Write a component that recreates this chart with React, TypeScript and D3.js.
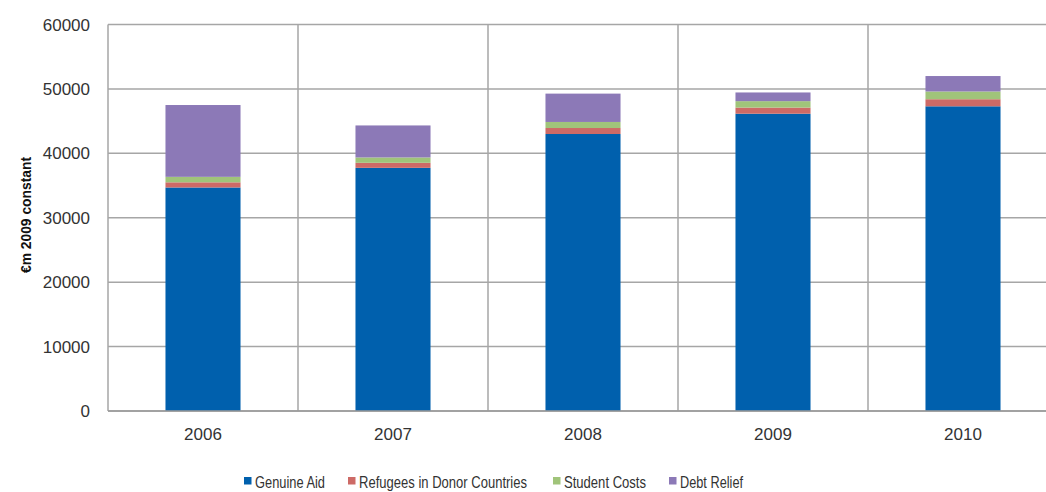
import * as d3 from "d3";

// chart data (€m, 2009 constant prices)
const years = ["2006", "2007", "2008", "2009", "2010"];
const seriesNames = ["Genuine Aid", "Refugees in Donor Countries", "Student Costs", "Debt Relief"];
const genuineAid = [34700, 37750, 43000, 46150, 47300];
const refugees = [800, 780, 930, 950, 1100];
const studentCosts = [850, 830, 940, 1000, 1200];
const debtRelief = [11150, 4970, 4400, 1350, 2400];
const yTicks = [0, 10000, 20000, 30000, 40000, 50000, 60000];

const colors = ["#0060AD", "#CD6A66", "#A0C47A", "#8C79B7"];
const legendX = [244, 348, 553, 669];
const legendW = [70, 168, 82, 63];

const W = 1046;
const H = 492;
const left = 108;
const right = 1058;
const top = 24.5;
const bottom = 411;
const font = "'Liberation Sans', Arial, sans-serif";

export default function App() {
  const rows = years.map((y, i) => ({
    year: y,
    "Genuine Aid": genuineAid[i],
    "Refugees in Donor Countries": refugees[i],
    "Student Costs": studentCosts[i],
    "Debt Relief": debtRelief[i],
  }));
  const stacked = d3.stack<any>().keys(seriesNames)(rows);

  const x = d3
    .scaleBand()
    .domain(years)
    .range([left, right])
    .paddingInner(0.605)
    .paddingOuter(0.3025);
  const y = d3.scaleLinear().domain([0, 60000]).range([bottom, top]);
  const step = x.step();

  return (
    <svg width={W} height={H} style={{ position: "absolute", left: 0, top: 0, background: "#fff" }}>
      {/* grid */}
      {yTicks.map((t) => (
        <line key={t} x1={left} x2={W} y1={y(t)} y2={y(t)} stroke="#A6A6A6" strokeWidth={1.5} />
      ))}
      {d3.range(years.length + 1).map((i) => (
        <line
          key={i}
          x1={left + i * step}
          x2={left + i * step}
          y1={top}
          y2={bottom}
          stroke="#A6A6A6"
          strokeWidth={1.5}
        />
      ))}
      {/* bars */}
      {stacked.map((s, si) => (
        <g key={s.key} fill={colors[si]}>
          {s.map((d, i) => (
            <rect
              key={i}
              x={x(years[i])}
              width={x.bandwidth()}
              y={y(d[1])}
              height={y(d[0]) - y(d[1])}
            />
          ))}
        </g>
      ))}
      <line x1={left} x2={W} y1={bottom} y2={bottom} stroke="#9A9A9A" strokeWidth={1.5} />
      {/* y ticks */}
      {yTicks.map((t) => (
        <text
          key={t}
          x={90}
          y={y(t)}
          dy="0.36em"
          textAnchor="end"
          fontFamily={font}
          fontSize={17}
          fill="#333"
        >
          {t}
        </text>
      ))}
      {/* x labels */}
      {years.map((yr) => (
        <text
          key={yr}
          x={(x(yr) as number) + x.bandwidth() / 2}
          y={440}
          textAnchor="middle"
          fontFamily={font}
          fontSize={17}
          fill="#333"
        >
          {yr}
        </text>
      ))}
      <text
        transform="translate(31,215) rotate(-90)"
        textAnchor="middle"
        fontFamily={font}
        fontWeight="bold"
        fontSize={15.5}
        textLength={116}
        lengthAdjust="spacingAndGlyphs"
        fill="#111"
      >
        €m 2009 constant
      </text>
      {/* legend */}
      {seriesNames.map((n, i) => (
        <g key={n} transform={`translate(${legendX[i]},477)`}>
          <rect width={7.5} height={7.5} fill={colors[i]} />
          <text
            x={11}
            y={11}
            fontFamily={font}
            fontSize={16.5}
            textLength={legendW[i]}
            lengthAdjust="spacingAndGlyphs"
            fill="#333"
          >
            {n}
          </text>
        </g>
      ))}
    </svg>
  );
}
